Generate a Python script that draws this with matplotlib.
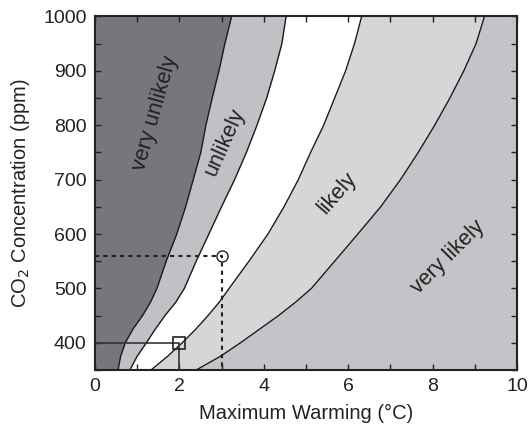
import matplotlib
matplotlib.use("Agg")
import matplotlib.pyplot as plt
from matplotlib.ticker import MultipleLocator

plt.rcParams['font.family'] = ['Liberation Sans', 'DejaVu Sans']

# CO2 levels (ppm) at which the boundary curves are read
co2 = [350, 375, 400, 425, 450, 475, 500, 550, 600, 650, 700, 750, 800, 850, 900, 950, 1000]
# Boundary curves: maximum warming (°C) at each CO2 level
bound_very_unlikely = [0.55, 0.61, 0.72, 0.90, 1.13, 1.32, 1.47, 1.69, 1.94, 2.15, 2.33, 2.51, 2.63, 2.78, 2.94, 3.08, 3.24]
bound_unlikely      = [0.83, 1.00, 1.22, 1.43, 1.66, 1.92, 2.12, 2.40, 2.70, 3.00, 3.31, 3.59, 3.84, 4.07, 4.26, 4.43, 4.53]
bound_likely_low    = [1.33, 1.72, 2.07, 2.39, 2.68, 2.95, 3.18, 3.65, 4.10, 4.48, 4.82, 5.11, 5.42, 5.68, 5.94, 6.15, 6.32]
bound_likely_high   = [2.40, 2.97, 3.45, 3.90, 4.35, 4.76, 5.13, 5.68, 6.23, 6.77, 7.24, 7.66, 8.05, 8.41, 8.74, 9.03, 9.23]

region_labels = ["very unlikely", "unlikely", "likely", "very likely"]

# reference points
sq_x, sq_y = 2, 400
ci_x, ci_y = 3, 560

fig = plt.figure(figsize=(5.3, 4.32), dpi=100)
ax = fig.add_axes([0.179, 0.1435, 0.7965, 0.8185])

xmin, xmax = 0, 10
ymin, ymax = 350, 1000

c_vu = '#76777b'
c_u = '#c0c1c5'
c_w = '#ffffff'
c_l = '#d5d6d8'
c_vl = '#c3c4c7'

left = [xmin] * len(co2)
right = [xmax] * len(co2)
ax.fill_betweenx(co2, left, bound_very_unlikely, color=c_vu, lw=0)
ax.fill_betweenx(co2, bound_very_unlikely, bound_unlikely, color=c_u, lw=0)
ax.fill_betweenx(co2, bound_unlikely, bound_likely_low, color=c_w, lw=0)
ax.fill_betweenx(co2, bound_likely_low, bound_likely_high, color=c_l, lw=0)
ax.fill_betweenx(co2, bound_likely_high, right, color=c_vl, lw=0)
for b in (bound_very_unlikely, bound_unlikely, bound_likely_low, bound_likely_high):
    ax.plot(b, co2, color='#1a1a1a', lw=1.0, solid_joinstyle='round')

# solid reference lines to the square
ax.plot([xmin, sq_x, sq_x], [sq_y, sq_y, ymin], color='#333333', lw=1.2)
ax.plot([sq_x], [sq_y], marker='s', ms=8, mfc='none', mec='#222222', mew=1.2)
# dotted reference lines to the circle
ax.plot([xmin, ci_x, ci_x], [ci_y, ci_y, ymin], color='#222222', lw=1.5, ls=(0, (2, 2)))
ax.plot([ci_x], [ci_y], marker='o', ms=8, mfc='none', mec='#222222', mew=1.0)

fs_lab = 15.5
ax.text(1.42, 822, region_labels[0], rotation=74, ha='center', va='center', fontsize=fs_lab, color='#222222')
ax.text(3.08, 769, region_labels[1], rotation=66, ha='center', va='center', fontsize=fs_lab, color='#222222')
ax.text(5.75, 675, region_labels[2], rotation=49, ha='center', va='center', fontsize=fs_lab, color='#222222')
ax.text(8.36, 558, region_labels[3], rotation=45, ha='center', va='center', fontsize=fs_lab, color='#222222')

ax.set_xlim(xmin, xmax)
ax.set_ylim(ymin, ymax)
ax.xaxis.set_major_locator(MultipleLocator(2))
ax.xaxis.set_minor_locator(MultipleLocator(1))
ax.yaxis.set_major_locator(MultipleLocator(100))
ax.yaxis.set_minor_locator(MultipleLocator(50))
ax.tick_params(which='both', direction='in', top=True, right=True, length=4, width=1, color='#222222')
ax.tick_params(which='major', labelsize=14, labelcolor='#222222', pad=6)
for s in ax.spines.values():
    s.set_linewidth(1.5)
    s.set_color('#222222')

ax.set_xlabel('Maximum Warming (°C)', fontsize=14.5, color='#222222', labelpad=6)
ax.set_ylabel('CO$_2$ Concentration (ppm)', fontsize=14.5, color='#222222', labelpad=8)

fig.savefig('out.png', dpi=100)
